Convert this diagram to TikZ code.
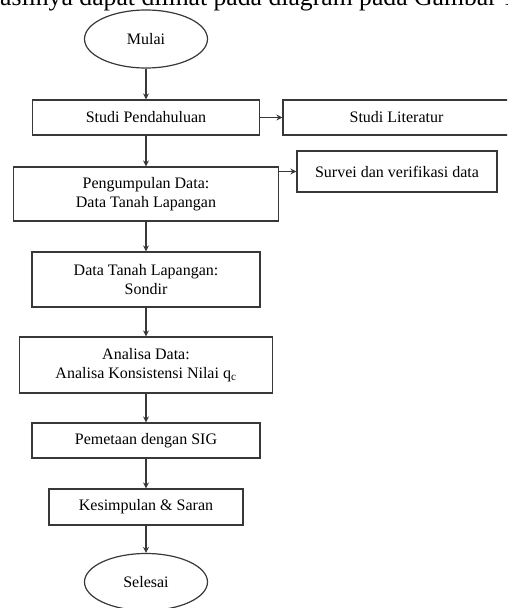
\documentclass[tikz,border=0pt]{standalone}
\usepackage{fontspec}
\setmainfont{Liberation Serif}
\usetikzlibrary{arrows.meta,shapes.geometric}
\begin{document}
\begin{tikzpicture}[x=1pt,y=-1pt,
  line/.style={draw=black!78,line width=1.2pt},
  flowbox/.style={line,rectangle,inner sep=0pt,align=center,font=\fontsize{16}{19}\selectfont},
  term/.style={line,ellipse,inner sep=0pt,minimum width=123pt,minimum height=58pt,font=\fontsize{16}{19}\selectfont},
  conn/.style={draw=black!78,line width=1.2pt,-{Stealth[length=6pt,width=6pt]}}]
\useasboundingbox (0,0) rectangle (507,608);
\clip (0,0) rectangle (507,608);
\node[anchor=base west,inner sep=0pt,font=\fontsize{25.7}{30}\selectfont] (top) at (0,5) {asilnya dapat dilihat pada diagram pada Gambar 1};
\node[term] (mulai) at (146,39) {Mulai};
\node[flowbox,minimum width=227pt,minimum height=35pt] (sp) at (146,117.5) {Studi Pendahuluan};
\node[flowbox,minimum width=227pt,minimum height=35pt] (sl) at (396.5,117.5) {Studi Literatur};
\node[flowbox,minimum width=265pt,minimum height=54pt] (pd) at (146,194) {Pengumpulan Data:\\Data Tanah Lapangan};
\node[flowbox,minimum width=200pt,minimum height=41pt] (sv) at (397,171.5) {Survei dan verifikasi data};
\node[flowbox,minimum width=228pt,minimum height=55pt] (dt) at (146,279.5) {Data Tanah Lapangan:\\Sondir};
\node[flowbox,minimum width=253pt,minimum height=56pt] (ad) at (146,365) {Analisa Data:\\Analisa Konsistensi Nilai q\textsubscript{c}};
\node[flowbox,minimum width=228pt,minimum height=35pt] (pm) at (146,440.5) {Pemetaan dengan SIG};
\node[flowbox,minimum width=194pt,minimum height=36pt] (ks) at (146,507) {Kesimpulan \& Saran};
\node[term,minimum height=57pt] (sl2) at (146,582) {Selesai};
\draw[conn] (mulai) -- (sp);
\draw[conn] (sp) -- (sl);
\draw[conn] (sp) -- (pd);
\draw[conn] (pd.east |- sv.west) -- (sv.west);
\draw[conn] (pd) -- (dt);
\draw[conn] (dt) -- (ad);
\draw[conn] (ad) -- (pm);
\draw[conn] (pm) -- (ks);
\draw[conn] (ks) -- (sl2);
\end{tikzpicture}
\end{document}
